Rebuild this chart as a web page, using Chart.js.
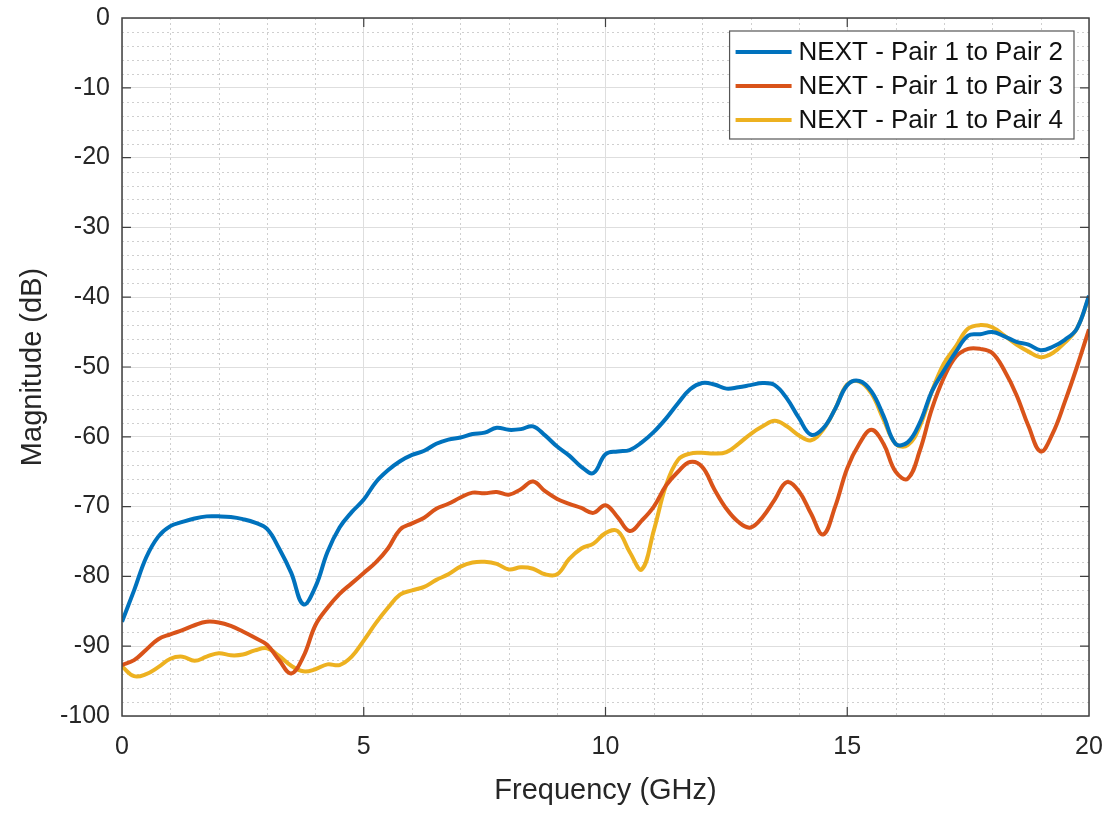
<!DOCTYPE html>
<html>
<head>
<meta charset="utf-8">
<script src="https://cdn.jsdelivr.net/npm/chart.js@4"></script>
<style>
  html, body { margin: 0; padding: 0; background: #fff; }
  #wrap { width: 1113px; height: 813px; }
</style>
</head>
<body>
<div id="wrap"><canvas id="chart1"></canvas></div>
<script>
// Frequency points (GHz), every 0.25
const freqs = [
  0, 0.25, 0.5, 0.75, 1, 1.25, 1.5, 1.75, 2, 2.25, 2.5, 2.75, 3, 3.25, 3.5, 3.75,
  4, 4.25, 4.5, 4.75, 5, 5.25, 5.5, 5.75, 6, 6.25, 6.5, 6.75, 7, 7.25, 7.5, 7.75,
  8, 8.25, 8.5, 8.75, 9, 9.25, 9.5, 9.75, 10, 10.25, 10.5, 10.75, 11, 11.25, 11.5, 11.75,
  12, 12.25, 12.5, 12.75, 13, 13.25, 13.5, 13.75, 14, 14.25, 14.5, 14.75, 15, 15.25, 15.5, 15.75,
  16, 16.25, 16.5, 16.75, 17, 17.25, 17.5, 17.75, 18, 18.25, 18.5, 18.75, 19, 19.25, 19.5, 19.75, 20
];

// NEXT - Pair 1 to Pair 2 (dB)
const pair2 = [
  -86.5, -82, -77.3, -74.3, -72.8, -72.2, -71.7, -71.4, -71.4, -71.5, -71.8, -72.3, -73.2, -76, -79.5, -84,
  -81.5, -76.5, -73, -70.8, -69, -66.5, -64.8, -63.5, -62.6, -62, -61, -60.4, -60.1, -59.6, -59.4, -58.7,
  -59, -58.9, -58.5, -59.8, -61.4, -62.7, -64.3, -65.2, -62.5, -62.1, -61.9, -60.8, -59.3, -57.4, -55.2, -53.2,
  -52.3, -52.5, -53.1, -52.9, -52.6, -52.3, -52.6, -54.5, -57.3, -59.7, -58.8, -56, -52.6, -52, -53.5, -57,
  -61, -60.8, -58, -53.5, -50.5, -47.8, -45.5, -45.3, -45, -45.6, -46.4, -46.8, -47.6, -47.1, -46.1, -44.5, -39.8
];

// NEXT - Pair 1 to Pair 3 (dB)
const pair3 = [
  -92.7, -92, -90.5, -89, -88.3, -87.7, -87, -86.5, -86.6, -87.1, -87.9, -88.8, -89.8, -92, -93.9, -91.5,
  -87, -84.5, -82.5, -81, -79.5, -78, -76, -73.3, -72.4, -71.6, -70.3, -69.6, -68.7, -68, -68.1, -67.9,
  -68.3, -67.5, -66.4, -67.8, -68.9, -69.6, -70.2, -70.9, -69.8, -71.5, -73.5, -72, -70, -67, -65, -63.6,
  -64.3, -67.5, -70.3, -72.2, -73, -71.5, -69, -66.5, -67.8, -71, -74, -70, -64.5, -61, -59, -61,
  -65, -66, -62, -56, -51.5, -48.5, -47.4, -47.4, -48, -50.5, -54, -58.5, -62.1, -59.5, -55, -50, -44.6
];

// NEXT - Pair 1 to Pair 4 (dB)
const pair4 = [
  -92.9, -94.3, -94, -93, -91.8, -91.5, -92.1, -91.5, -91, -91.3, -91.2, -90.6, -90.3, -91.4, -92.8, -93.6,
  -93.3, -92.6, -92.7, -91.5, -89.2, -86.7, -84.5, -82.6, -82, -81.5, -80.5, -79.7, -78.6, -78, -77.9, -78.2,
  -79, -78.7, -78.9, -79.7, -79.7, -77.5, -76, -75.3, -73.8, -73.5, -76.5, -79, -73.4, -67, -63.3, -62.4,
  -62.3, -62.4, -62.2, -61, -59.6, -58.5, -57.7, -58.5, -59.8, -60.5, -59, -56, -52.5, -52.1, -53.8, -57.5,
  -61, -61.2, -58.5, -53.5, -49.5, -47, -44.5, -44, -44.3, -45.5, -46.8, -47.8, -48.6, -48, -46.5, -44.5, -40
];

const seriesLabels = ['NEXT - Pair 1 to Pair 2', 'NEXT - Pair 1 to Pair 3', 'NEXT - Pair 1 to Pair 4'];
const seriesColors = ['#0072BD', '#D95319', '#EDB120'];
const seriesData = [pair2, pair3, pair4];

const FONT = "'Liberation Sans', Arial, Helvetica, sans-serif";

function toPoints(ys) {
  return ys.map((y, i) => ({ x: freqs[i], y: y }));
}

// dotted minor grid, drawn before the curves
const minorGrid = {
  id: 'minorGrid',
  beforeDatasetsDraw(chart) {
    const { ctx, chartArea: a, scales: { x, y } } = chart;
    ctx.save();
    ctx.strokeStyle = '#cfcfcf';
    ctx.lineWidth = 1;
    ctx.setLineDash([2, 3]);
    for (let f = 1; f < 20; f++) {
      if (f % 5 === 0) continue;
      const px = Math.round(x.getPixelForValue(f)) + 0.5;
      ctx.beginPath();
      ctx.moveTo(px, a.top);
      ctx.lineTo(px, a.bottom);
      ctx.stroke();
    }
    for (let v = -98; v < 0; v += 2) {
      if (v % 10 === 0) continue;
      const py = Math.round(y.getPixelForValue(v)) + 0.5;
      ctx.beginPath();
      ctx.moveTo(a.left, py);
      ctx.lineTo(a.right, py);
      ctx.stroke();
    }
    ctx.restore();
  }
};

// box frame, inward ticks and legend on top
const frameAndLegend = {
  id: 'frameAndLegend',
  afterDatasetsDraw(chart) {
    const { ctx, chartArea: a, scales: { x, y } } = chart;
    ctx.save();
    ctx.strokeStyle = '#404040';
    ctx.lineWidth = 1.5;
    ctx.setLineDash([]);
    ctx.strokeRect(a.left, a.top, a.right - a.left, a.bottom - a.top);

    const tl = 9;
    ctx.lineWidth = 1.2;
    for (let f = 5; f < 20; f += 5) {
      const px = x.getPixelForValue(f);
      ctx.beginPath();
      ctx.moveTo(px, a.bottom); ctx.lineTo(px, a.bottom - tl);
      ctx.moveTo(px, a.top); ctx.lineTo(px, a.top + tl);
      ctx.stroke();
    }
    for (let v = -90; v < 0; v += 10) {
      const py = y.getPixelForValue(v);
      ctx.beginPath();
      ctx.moveTo(a.left, py); ctx.lineTo(a.left + tl, py);
      ctx.moveTo(a.right, py); ctx.lineTo(a.right - tl, py);
      ctx.stroke();
    }

    // legend
    ctx.font = '26px ' + FONT;
    let tw = 0;
    chart.data.datasets.forEach(ds => { tw = Math.max(tw, ctx.measureText(ds.label).width); });
    const bw = 70 + tw + 10;
    const bh = 108;
    const bx = a.right - 15 - bw;
    const by = a.top + 13;
    ctx.fillStyle = '#fff';
    ctx.fillRect(bx, by, bw, bh);
    ctx.strokeStyle = '#555';
    ctx.lineWidth = 1.2;
    ctx.strokeRect(bx, by, bw, bh);
    ctx.textBaseline = 'middle';
    ctx.textAlign = 'left';
    chart.data.datasets.forEach((ds, i) => {
      const ly = by + 21 + i * 34;
      ctx.strokeStyle = ds.borderColor;
      ctx.lineWidth = 4;
      ctx.beginPath();
      ctx.moveTo(bx + 6, ly);
      ctx.lineTo(bx + 62, ly);
      ctx.stroke();
      ctx.fillStyle = '#111';
      ctx.fillText(ds.label, bx + 69, ly + 1);
    });
    ctx.restore();
  }
};

const config1 = {
  type: 'line',
  data: {
    datasets: seriesData.map((d, i) => ({
      label: seriesLabels[i],
      data: toPoints(d),
      borderColor: seriesColors[i],
      backgroundColor: seriesColors[i],
      borderWidth: 4,
      pointRadius: 0,
      tension: 0.4,
      fill: false
    }))
  },
  options: {
    responsive: true,
    maintainAspectRatio: false,
    animation: false,
    layout: { padding: { top: 18, right: 24, left: 0, bottom: 0 } },
    plugins: {
      legend: { display: false },
      tooltip: { enabled: false }
    },
    scales: {
      x: {
        type: 'linear',
        min: 0,
        max: 20,
        border: { display: false },
        grid: { color: '#dedede', lineWidth: 1, drawTicks: false },
        ticks: { stepSize: 5, color: '#262626', padding: 16, font: { family: FONT, size: 25 } },
        title: {
          display: true,
          text: 'Frequency (GHz)',
          color: '#262626',
          font: { family: FONT, size: 29, lineHeight: 1.2 },
          padding: { top: 0, bottom: 5 }
        },
        afterFit(scale) {
          scale.height = 97;
          scale.paddingLeft = 0;
          scale.paddingRight = 0;
        }
      },
      y: {
        type: 'linear',
        min: -100,
        max: 0,
        border: { display: false },
        grid: { color: '#dedede', lineWidth: 1, drawTicks: false },
        ticks: { stepSize: 10, color: '#262626', padding: 12, font: { family: FONT, size: 25 } },
        title: {
          display: true,
          text: 'Magnitude (dB)',
          color: '#262626',
          font: { family: FONT, size: 29, lineHeight: 1.2 },
          padding: { top: 16, bottom: 0 }
        },
        afterFit(scale) {
          scale.width = 122;
          scale.paddingTop = 0;
          scale.paddingBottom = 0;
        }
      }
    }
  },
  plugins: [minorGrid, frameAndLegend]
};

new Chart(document.getElementById('chart1'), config1);
</script>
</body>
</html>
